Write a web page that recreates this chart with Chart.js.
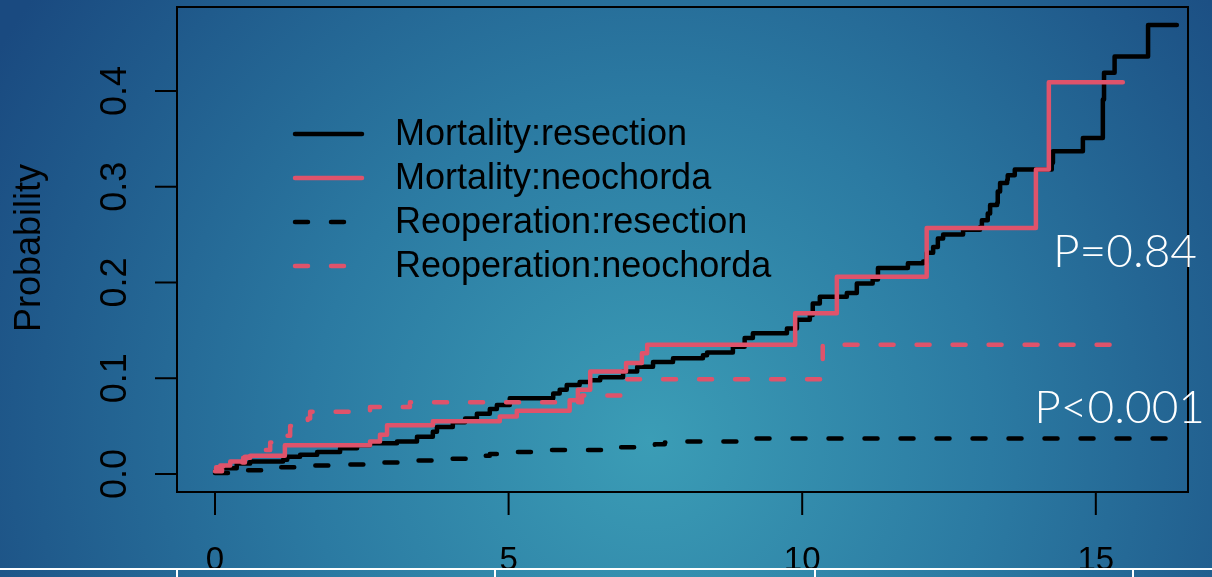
<!DOCTYPE html>
<html>
<head>
<meta charset="utf-8">
<script src="https://cdn.jsdelivr.net/npm/chart.js@4.4.1/dist/chart.umd.min.js"></script>
<style>
html, body { margin: 0; padding: 0; background: #1f5a8c; }
#graphCanvas { display: block; }
</style>
</head>
<body>
<canvas id="graphCanvas" width="1212" height="577"></canvas>
<script>
// cumulative incidence, time in years
var mortResT = [0, 0.09, 0.37, 0.6, 1.16, 1.23, 1.45, 1.74, 2.13, 2.42,
    2.64, 3.1, 3.44, 3.71, 3.78, 4.05, 4.26, 4.46, 4.68, 4.8,
    5.02, 5.76, 5.87, 5.99, 6.21, 6.39, 6.56, 6.95, 7.19, 7.46,
    7.8, 8.31, 8.38, 8.82, 9.02, 9.16, 9.74, 9.91, 10.13, 10.18,
    10.3, 10.76, 10.93, 11.2, 11.29, 11.8, 12.06, 12.12, 12.23, 12.31,
    12.4, 12.74, 13.03, 13.06, 13.16, 13.2, 13.32, 13.33, 13.37, 13.49,
    13.5, 13.62, 14.25, 14.27, 14.78, 15.12, 15.14, 15.32, 15.89, 16.38];
var mortResP = [0.003, 0.006, 0.011, 0.013, 0.015, 0.018, 0.020, 0.023, 0.027, 0.030,
    0.032, 0.034, 0.039, 0.044, 0.049, 0.054, 0.058, 0.063, 0.068, 0.072,
    0.079, 0.084, 0.088, 0.093, 0.096, 0.098, 0.101, 0.107, 0.112, 0.117,
    0.121, 0.124, 0.127, 0.133, 0.142, 0.147, 0.152, 0.161, 0.166, 0.178,
    0.185, 0.189, 0.199, 0.203, 0.215, 0.220, 0.222, 0.231, 0.237, 0.246,
    0.250, 0.255, 0.258, 0.265, 0.272, 0.281, 0.283, 0.295, 0.304, 0.307,
    0.312, 0.318, 0.325, 0.337, 0.351, 0.391, 0.419, 0.436, 0.469, 0.469];

var mortNeoT = [0, 0.02, 0.09, 0.26, 0.48, 0.6, 1.19, 2.64, 2.81, 2.93,
    3.71, 4.85, 5.14, 6.04, 6.18, 6.39, 7.0, 7.27, 7.36, 9.88,
    10.59, 12.12, 13.98, 14.2, 15.46];
var mortNeoP = [0.002, 0.007, 0.009, 0.013, 0.017, 0.019, 0.030, 0.034, 0.041, 0.051,
    0.055, 0.060, 0.066, 0.077, 0.088, 0.107, 0.116, 0.126, 0.135, 0.168,
    0.206, 0.257, 0.318, 0.409, 0.409];

var reopResT = [0, 0.43, 0.94, 1.45, 2.13, 2.72, 3.32, 3.92, 4.51, 4.68,
    5.02, 5.62, 6.81, 7.49, 7.66, 7.92, 9.11, 16.36];
var reopResP = [0.001, 0.004, 0.007, 0.009, 0.010, 0.012, 0.014, 0.016, 0.019, 0.021,
    0.023, 0.025, 0.028, 0.031, 0.033, 0.034, 0.037, 0.037];

var reopNeoT = [0, 0.12, 0.26, 0.51, 0.8, 0.94, 1.23, 1.28, 1.58, 1.62,
    2.64, 3.32, 6.25, 7.02, 10.35, 15.36];
var reopNeoP = [0.003, 0.008, 0.012, 0.018, 0.025, 0.033, 0.040, 0.050, 0.058, 0.065,
    0.070, 0.075, 0.082, 0.099, 0.135, 0.135];

var seriesLabels = ['Mortality:resection', 'Mortality:neochorda', 'Reoperation:resection', 'Reoperation:neochorda'];
var xTicks = [0, 5, 10, 15];
var yTicks = [0, 0.1, 0.2, 0.3, 0.4];
var yTickLabels = ['0.0', '0.1', '0.2', '0.3', '0.4'];
var yTitle = 'Probability';
var pLabels = ['P=0.84', 'P<0.001'];

function toPoints(t, p) {
    var pts = [];
    for (var i = 0; i < t.length; i++) {
        pts.push({x: t[i], y: p[i]});
    }
    return pts;
}

var RED = '#DF536B';
var DASH = [13, 23];

var bgPlugin = {
    id: 'bgPlugin',
    beforeDraw: function(chart) {
        var ctx = chart.ctx;
        ctx.save();
        var g = ctx.createRadialGradient(650, 440, 0, 650, 440, 760);
        g.addColorStop(0, '#3b9db6');
        g.addColorStop(0.45, '#2b7aa2');
        g.addColorStop(1, '#1a4a80');
        ctx.fillStyle = g;
        ctx.fillRect(0, 0, chart.width, chart.height);
        ctx.restore();
    }
};

var axesPlugin = {
    id: 'axesPlugin',
    afterDatasetsDraw: function(chart) {
        var ctx = chart.ctx;
        var a = chart.chartArea;
        var xs = chart.scales.x;
        var ys = chart.scales.y;
        ctx.save();
        ctx.strokeStyle = '#000';
        ctx.fillStyle = '#000';
        ctx.lineWidth = 2;
        ctx.strokeRect(a.left, a.top, a.right - a.left, a.bottom - a.top);

        // x axis
        ctx.font = '33px "Liberation Sans", Arial, sans-serif';
        ctx.textAlign = 'center';
        ctx.textBaseline = 'alphabetic';
        for (var i = 0; i < xTicks.length; i++) {
            var px = xs.getPixelForValue(xTicks[i]);
            ctx.beginPath();
            ctx.moveTo(px, a.bottom);
            ctx.lineTo(px, a.bottom + 23);
            ctx.stroke();
            ctx.fillText(String(xTicks[i]), px, a.bottom + 78);
        }

        // y axis
        ctx.font = '36px "Liberation Sans", Arial, sans-serif';
        for (var j = 0; j < yTicks.length; j++) {
            var py = ys.getPixelForValue(yTicks[j]);
            ctx.beginPath();
            ctx.moveTo(a.left, py);
            ctx.lineTo(a.left - 22, py);
            ctx.stroke();
            ctx.save();
            ctx.translate(a.left - 51, py);
            ctx.rotate(-Math.PI / 2);
            ctx.fillText(yTickLabels[j], 0, 0);
            ctx.restore();
        }
        ctx.save();
        ctx.translate(40, 248);
        ctx.rotate(-Math.PI / 2);
        ctx.fillText(yTitle, 0, 0);
        ctx.restore();

        // legend inside plot
        ctx.font = '36px "Liberation Sans", Arial, sans-serif';
        ctx.textAlign = 'left';
        ctx.textBaseline = 'middle';
        var ds = chart.data.datasets;
        for (var k = 0; k < ds.length; k++) {
            var ly = 134 + k * 44;
            ctx.save();
            ctx.strokeStyle = ds[k].borderColor;
            ctx.lineWidth = 4.5;
            ctx.lineCap = 'round';
            ctx.setLineDash(ds[k].borderDash || []);
            ctx.beginPath();
            ctx.moveTo(295, ly);
            ctx.lineTo(362, ly);
            ctx.stroke();
            ctx.restore();
            ctx.fillText(ds[k].label, 395, ly + 1);
        }

        // p values
        ctx.fillStyle = '#fff';
        ctx.textAlign = 'right';
        ctx.textBaseline = 'alphabetic';
        ctx.font = '300 46px Lato, "Open Sans", sans-serif';
        ctx.fillText(pLabels[0], 1197, 267);
        ctx.fillText(pLabels[1], 1205, 423);

        // white table rule at the bottom
        ctx.strokeStyle = '#fff';
        ctx.lineWidth = 2;
        ctx.beginPath();
        ctx.moveTo(0, 569);
        ctx.lineTo(chart.width, 569);
        var cols = [177, 495, 815, 1133];
        for (var c = 0; c < cols.length; c++) {
            ctx.moveTo(cols[c], 569);
            ctx.lineTo(cols[c], chart.height);
        }
        ctx.stroke();
        ctx.restore();
    }
};

function baseSet(label, t, p, color, dash, order) {
    return {
        label: label,
        data: toPoints(t, p),
        borderColor: color,
        backgroundColor: color,
        borderWidth: 4.5,
        borderDash: dash,
        borderCapStyle: 'round',
        borderJoinStyle: 'round',
        pointRadius: 0,
        fill: false,
        stepped: true,
        order: order
    };
}

var chartdata = {
    datasets: [
        baseSet(seriesLabels[0], mortResT, mortResP, '#000000', [], 4),
        baseSet(seriesLabels[1], mortNeoT, mortNeoP, RED, [], 3),
        baseSet(seriesLabels[2], reopResT, reopResP, '#000000', DASH, 2),
        baseSet(seriesLabels[3], reopNeoT, reopNeoP, RED, DASH, 1)
    ]
};

var graphTarget = document.getElementById('graphCanvas');
var lineGraph = new Chart(graphTarget, {
    type: 'line',
    data: chartdata,
    options: {
        responsive: false,
        animation: false,
        layout: { padding: { left: 177, top: 7, right: 24, bottom: 85 } },
        plugins: { legend: { display: false }, tooltip: { enabled: false } },
        scales: {
            x: { type: 'linear', min: -0.647, max: 16.57, display: false },
            y: { type: 'linear', min: -0.0188, max: 0.4877, display: false }
        }
    },
    plugins: [bgPlugin, axesPlugin]
});
</script>
</body>
</html>
